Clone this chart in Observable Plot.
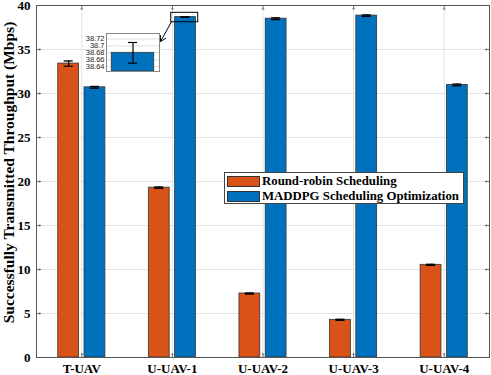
<!DOCTYPE html>
<html><head><meta charset="utf-8">
<script src="https://cdn.jsdelivr.net/npm/d3@7"></script>
<script src="https://cdn.jsdelivr.net/npm/@observablehq/plot@0.6"></script>
<style>
body{margin:0;background:#fff;}
#wrap{position:relative;width:491px;height:375px;overflow:hidden;}
#wrap svg{position:absolute;left:0;top:0;}
#legend{position:absolute;left:224px;top:172px;width:238px;height:30px;border:1px solid #444;background:#fff;
  font-family:"Liberation Serif",serif;font-weight:bold;font-size:12.8px;color:#000;}
#legend .row{position:absolute;left:2px;height:14px;line-height:14px;white-space:nowrap;}
#legend .sw{display:inline-block;width:33px;height:11px;border:1px solid #333;vertical-align:middle;margin-right:2px;box-sizing:border-box;position:relative;top:-1px;}
</style></head><body><div id="wrap"></div>
<script>
// ---- data ----
const categories = ["T-UAV", "U-UAV-1", "U-UAV-2", "U-UAV-3", "U-UAV-4"];
const roundRobin = [33.4, 19.3, 7.27, 4.28, 10.53];
const roundRobinErr = [0.3, 0.08, 0.06, 0.06, 0.06];
const maddpg = [30.7, 38.68, 38.5, 38.85, 30.97];
const maddpgErr = [0.1, 0.03, 0.1, 0.08, 0.1];
const seriesNames = ["Round-robin Scheduling", "MADDPG Scheduling Optimization"];
const seriesColors = ["#D95319", "#0072BD"];
const yTicks = [0, 5, 10, 15, 20, 25, 30, 35, 40];
const yLabel = "Successfully Transmitted Throughput (Mbps)";
// inset (zoom of U-UAV-1 MADDPG bar)
const insetTicks = [38.64, 38.66, 38.68, 38.7, 38.72];
const insetDomain = [38.626, 38.736];
const insetCategory = 1;       // index into categories
const insetSeries = 1;         // MADDPG
// annotation layout in data coordinates of the main chart
const zoomBoxX = [1.987, 2.285], zoomBoxY = [38.1, 39.17];
const arrowFrom = [1.987, 38.1], arrowTo = [1.869, 35.91];
const insetBoxX = [1.269, 1.858], insetBoxY = [32.5, 36.85];

const offset = 0.145, halfW = 0.115, capHalf = 0.05;
const rows = [];
categories.forEach((c, i) => {
  rows.push({x: i + 1 - offset, v: roundRobin[i], e: roundRobinErr[i], s: seriesNames[0]});
  rows.push({x: i + 1 + offset, v: maddpg[i], e: maddpgErr[i], s: seriesNames[1]});
});

const serif = '"Liberation Serif", "Times New Roman", serif';
const frameColor = "#555";
const gridColor = "#e3e3e3";

const main = Plot.plot({
  width: 491, height: 375,
  marginLeft: 36, marginRight: 2, marginTop: 5, marginBottom: 18,
  style: {fontFamily: serif, fontWeight: "bold", fontSize: "13px", color: "#000", background: "transparent", overflow: "visible"},
  x: {domain: [0.5, 5.5]},
  y: {domain: [0, 40]},
  color: {domain: seriesNames, range: seriesColors},
  marks: [
    Plot.ruleY(yTicks.slice(1, -1), {stroke: gridColor, strokeWidth: 1}),
    Plot.ruleX([1, 2, 3, 4, 5], {stroke: gridColor, strokeWidth: 1}),
    Plot.rect(rows, {x1: d => d.x - halfW, x2: d => d.x + halfW, y1: 0, y2: "v", fill: "s", stroke: "#333", strokeWidth: 0.8}),
    Plot.ruleX(rows, {x: "x", y1: d => d.v - d.e, y2: d => d.v + d.e, stroke: "#000", strokeWidth: 1.3}),
    Plot.ruleY(rows, {y: d => d.v - d.e, x1: d => d.x - capHalf, x2: d => d.x + capHalf, stroke: "#000", strokeWidth: 1.3}),
    Plot.ruleY(rows, {y: d => d.v + d.e, x1: d => d.x - capHalf, x2: d => d.x + capHalf, stroke: "#000", strokeWidth: 1.3}),
    // inward ticks
    Plot.vector(yTicks.slice(1, -1), {x: 0.5, y: d => d, rotate: 90, length: 4, anchor: "start", stroke: frameColor, strokeWidth: 0.8}),
    Plot.vector(yTicks.slice(1, -1), {x: 5.5, y: d => d, rotate: 270, length: 4, anchor: "start", stroke: frameColor, strokeWidth: 0.8}),
    Plot.vector([1, 2, 3, 4, 5], {x: d => d, y: 40, rotate: 180, length: 4, anchor: "start", stroke: frameColor, strokeWidth: 0.8}),
    Plot.vector([1, 2, 3, 4, 5], {x: d => d, y: 0, rotate: 0, length: 4, anchor: "start", stroke: frameColor, strokeWidth: 0.8}),
    Plot.frame({stroke: frameColor, strokeWidth: 1}),
    // zoom annotation
    Plot.rect([0], {x1: zoomBoxX[0], x2: zoomBoxX[1], y1: zoomBoxY[0], y2: zoomBoxY[1], fill: "none", stroke: "#000", strokeWidth: 1}),
    Plot.arrow([0], {x1: arrowFrom[0], y1: arrowFrom[1], x2: arrowTo[0], y2: arrowTo[1], stroke: "#000", strokeWidth: 1, headLength: 9}),
    Plot.axisY({ticks: yTicks, tickSize: 0, tickPadding: 6, label: null}),
    Plot.axisX({ticks: [1, 2, 3, 4, 5], tickFormat: d => categories[d - 1], tickSize: 0, tickPadding: 6, label: null}),
    Plot.text([yLabel], {text: d => d, frameAnchor: "left", textAnchor: "middle", rotate: -90, dx: -27.5, dy: -9, fontSize: 15.5, fontWeight: "bold"})
  ]
});
document.getElementById("wrap").appendChild(main);

// ---- inset ----
const sx = main.scale("x"), sy = main.scale("y");
const boxL = sx.apply(insetBoxX[0]), boxR = sx.apply(insetBoxX[1]);
const boxT = sy.apply(insetBoxY[1]), boxB = sy.apply(insetBoxY[0]);
const insetML = 26;
const cx = insetCategory + 1 + offset;
const insetRow = [{x: cx, v: maddpg[insetCategory], e: maddpgErr[insetCategory], s: seriesNames[insetSeries]}];
const insetX = [cx - halfW - 0.0286, cx + halfW + 0.0286];
const inset = Plot.plot({
  width: Math.round(boxR - boxL) + insetML + 1, height: Math.round(boxB - boxT) + 2,
  marginLeft: insetML, marginRight: 1, marginTop: 1, marginBottom: 1,
  style: {fontFamily: '"Liberation Sans", Arial, sans-serif', fontSize: "7.5px", color: "#222", background: "transparent", overflow: "visible"},
  x: {domain: insetX, axis: null},
  y: {domain: insetDomain},
  color: {domain: seriesNames, range: seriesColors},
  marks: [
    Plot.frame({fill: "#fff", stroke: "none"}),
    Plot.ruleY(insetTicks, {stroke: "#e0e0e0"}),
    Plot.rect(insetRow, {x1: d => d.x - halfW, x2: d => d.x + halfW, y1: insetDomain[0], y2: "v", fill: "s", stroke: "#333", strokeWidth: 0.8}),
    Plot.ruleX(insetRow, {x: "x", y1: d => d.v - d.e, y2: d => d.v + d.e, stroke: "#000", strokeWidth: 1.2}),
    Plot.ruleY(insetRow, {y: d => d.v - d.e, x1: d => d.x - 0.025, x2: d => d.x + 0.025, stroke: "#000", strokeWidth: 1.2}),
    Plot.ruleY(insetRow, {y: d => d.v + d.e, x1: d => d.x - 0.025, x2: d => d.x + 0.025, stroke: "#000", strokeWidth: 1.2}),
    Plot.frame({stroke: "#888", strokeWidth: 1}),
    Plot.axisY({ticks: insetTicks, tickSize: 0, tickPadding: 2, tickFormat: d => String(d), label: null})
  ]
});
inset.style.left = (boxL - insetML) + "px";
inset.style.top = (boxT - 1) + "px";
document.getElementById("wrap").appendChild(inset);

// ---- legend ----
const lg = document.createElement("div");
lg.id = "legend";
seriesNames.forEach((n, i) => {
  const r = document.createElement("div");
  r.className = "row";
  r.style.top = (1 + i * 15) + "px";
  const sw = document.createElement("span");
  sw.className = "sw";
  sw.style.background = seriesColors[i];
  r.appendChild(sw);
  r.appendChild(document.createTextNode(n));
  lg.appendChild(r);
});
document.getElementById("wrap").appendChild(lg);
</script></body></html>
